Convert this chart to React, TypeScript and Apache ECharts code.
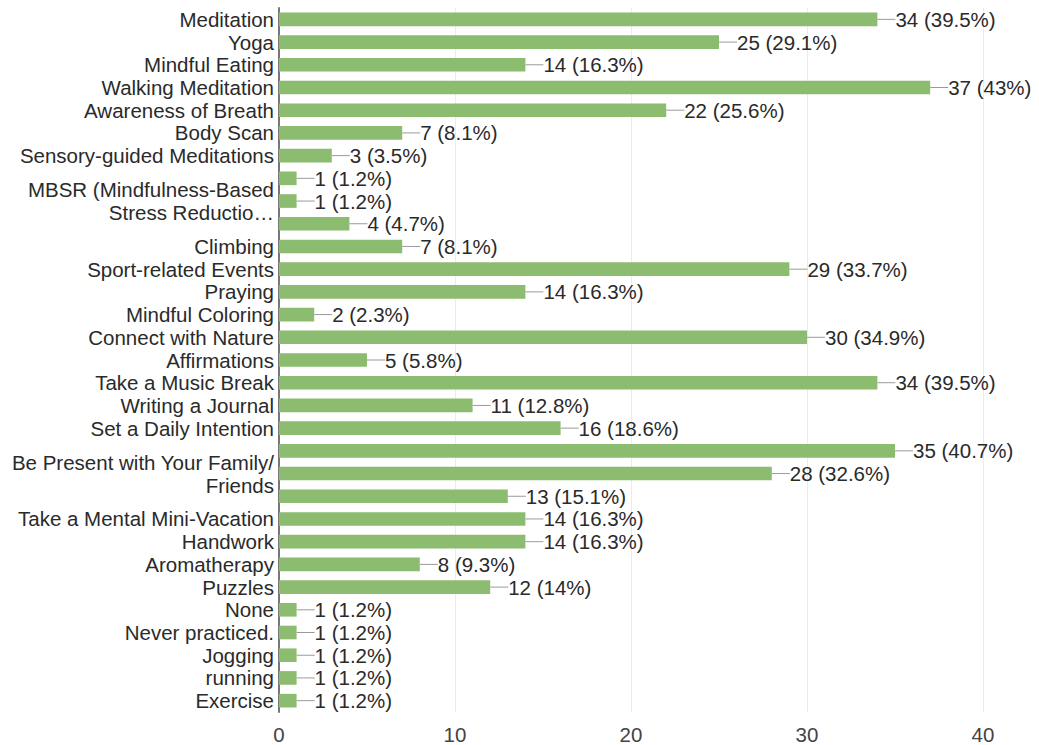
import React, { useEffect, useRef } from "react";
import * as echarts from "echarts";

const categories = [
  "Meditation",
  "Yoga",
  "Mindful Eating",
  "Walking Meditation",
  "Awareness of Breath",
  "Body Scan",
  "Sensory-guided Meditations",
  "MBSR (a)",
  "MBSR (Mindfulness-Based Stress Reductio…",
  "MBSR (b)",
  "Climbing",
  "Sport-related Events",
  "Praying",
  "Mindful Coloring",
  "Connect with Nature",
  "Affirmations",
  "Take a Music Break",
  "Writing a Journal",
  "Set a Daily Intention",
  "Be Present (a)",
  "Be Present with Your Family/ Friends",
  "Be Present (b)",
  "Take a Mental Mini-Vacation",
  "Handwork",
  "Aromatherapy",
  "Puzzles",
  "None",
  "Never practiced.",
  "Jogging",
  "running",
  "Exercise",
];

const tickLabels = [
  "Meditation",
  "Yoga",
  "Mindful Eating",
  "Walking Meditation",
  "Awareness of Breath",
  "Body Scan",
  "Sensory-guided Meditations",
  "",
  "MBSR (Mindfulness-Based\nStress Reductio…",
  "",
  "Climbing",
  "Sport-related Events",
  "Praying",
  "Mindful Coloring",
  "Connect with Nature",
  "Affirmations",
  "Take a Music Break",
  "Writing a Journal",
  "Set a Daily Intention",
  "",
  "Be Present with Your Family/\nFriends",
  "",
  "Take a Mental Mini-Vacation",
  "Handwork",
  "Aromatherapy",
  "Puzzles",
  "None",
  "Never practiced.",
  "Jogging",
  "running",
  "Exercise",
];

const counts = [34, 25, 14, 37, 22, 7, 3, 1, 1, 4, 7, 29, 14, 2, 30, 5, 34, 11, 16, 35, 28, 13, 14, 14, 8, 12, 1, 1, 1, 1, 1];

const percents = [
  "39.5%", "29.1%", "16.3%", "43%", "25.6%", "8.1%", "3.5%", "1.2%", "1.2%", "4.7%",
  "8.1%", "33.7%", "16.3%", "2.3%", "34.9%", "5.8%", "39.5%", "12.8%", "18.6%", "40.7%",
  "32.6%", "15.1%", "16.3%", "16.3%", "9.3%", "14%", "1.2%", "1.2%", "1.2%", "1.2%", "1.2%",
];

const xTicks = [0, 10, 20, 30, 40];

const FONT = "'Liberation Sans', Arial, sans-serif";
const FS = 20.5;

export default function App() {
  const ref = useRef<HTMLDivElement>(null);
  useEffect(() => {
    if (!ref.current) return;
    const chart = echarts.init(ref.current, null, { renderer: "svg" });
    chart.setOption({
      animation: false,
      textStyle: { fontFamily: FONT },
      grid: { left: 279, right: 56, top: 8, bottom: 33, containLabel: false },
      xAxis: {
        type: "value",
        min: xTicks[0],
        max: xTicks[xTicks.length - 1],
        interval: 10,
        axisLine: { show: false },
        axisTick: { show: false },
        splitLine: { show: true, lineStyle: { color: "#ebebeb", width: 1 } },
        axisLabel: {
          color: "#444",
          fontSize: FS,
          fontFamily: FONT,
          margin: 12,
        },
      },
      yAxis: {
        type: "category",
        inverse: true,
        data: categories,
        axisTick: { show: false },
        axisLine: { show: true, lineStyle: { color: "#777", width: 2 } },
        axisLabel: {
          interval: 0,
          color: "#2a2a2a",
          fontSize: FS,
          fontFamily: FONT,
          margin: 5,
          lineHeight: 23,
          formatter: (_v: string, i: number) => tickLabels[i],
        },
      },
      series: [
        {
          type: "bar",
          data: counts,
          barCategoryGap: "40%",
          itemStyle: { color: "#8cbc6f" },
          label: {
            show: true,
            position: "right",
            distance: 0,
            formatter: (p: any) => `{l|}{t|${counts[p.dataIndex]} (${percents[p.dataIndex]})}`,
            rich: {
              l: { width: 18, height: 1, backgroundColor: "#9a9a9a" },
              t: { color: "#2a2a2a", fontSize: FS, fontFamily: FONT },
            },
          },
        },
      ],
    });
    return () => chart.dispose();
  }, []);
  return <div ref={ref} style={{ width: 1039, height: 745, position: "absolute", left: 0, top: 0, background: "#fff" }} />;
}
